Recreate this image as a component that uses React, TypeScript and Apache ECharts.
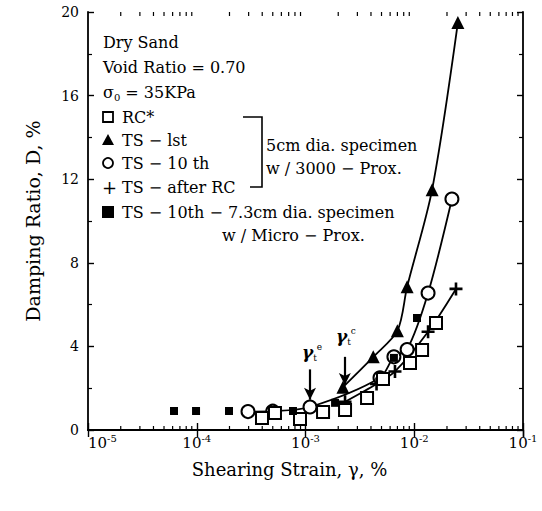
import React, { useEffect, useRef } from 'react';
import * as echarts from 'echarts';

// ---- data (shearing strain γ in %, damping ratio D in %) ----
const xTickValues = [1e-5, 1e-4, 1e-3, 1e-2, 1e-1];
const yTickValues = [0, 4, 8, 12, 16, 20];

const rcSquares: number[][] = [
  [3.98e-4, 0.57], [5.24e-4, 0.81], [8.9e-4, 0.53], [1.45e-3, 0.86], [2.31e-3, 0.96],
  [3.68e-3, 1.53], [5.16e-3, 2.44], [9.14e-3, 3.2], [1.18e-2, 3.83], [1.585e-2, 5.12],
];
const ts1st: number[][] = [
  [2.21e-3, 2.05], [4.2e-3, 3.5], [7.0e-3, 4.75], [8.6e-3, 6.85], [1.46e-2, 11.5], [2.52e-2, 19.5],
];
const ts10th: number[][] = [
  [2.96e-4, 0.88], [5.0e-4, 0.9], [1.1e-3, 1.1], [4.84e-3, 2.5], [6.5e-3, 3.5],
  [8.6e-3, 3.85], [1.34e-2, 6.55], [2.22e-2, 11.05],
];
const tsAfterRC: number[][] = [
  [2.31e-3, 1.35], [4.5e-3, 2.2], [6.65e-3, 2.8], [1.34e-2, 4.7], [2.42e-2, 6.75],
];
const ts10th73: number[][] = [
  [6.18e-5, 0.91], [9.85e-5, 0.91], [1.98e-4, 0.91], [7.67e-4, 0.91], [1.87e-3, 1.3],
  [6.5e-3, 3.45], [1.06e-2, 5.36],
];
const thresholdArrows = [
  { x: 1.1e-3, from: 2.9, to: 1.45 },
  { x: 2.3e-3, from: 3.5, to: 2.15 },
];

const FONT = '"DejaVu Serif", "Liberation Serif", serif';
const minorValues: number[][] = [];
for (let e = -5; e <= -2; e++) {
  for (let k = 2; k <= 9; k++) minorValues.push([k * Math.pow(10, e), 0]);
}
const PLUS = 'path://M4,0 L6,0 L6,4 L10,4 L10,6 L6,6 L6,10 L4,10 L4,6 L0,6 L0,4 L4,4 Z';

export default function App() {
  const ref = useRef<HTMLDivElement>(null);
  useEffect(() => {
    if (!ref.current) return;
    const chart = echarts.init(ref.current, null, { renderer: 'svg' });
    const supFmt = (v: number) => {
      const e = Math.round(Math.log10(v));
      return '{a|10}{b|' + e + '}';
    };
    const axisCommon = {
      type: 'log' as const,
      logBase: 10,
      min: xTickValues[0],
      max: xTickValues[xTickValues.length - 1],
      axisLine: { lineStyle: { color: '#000', width: 1.8 } },
      splitLine: { show: false },
    };
    const lineSeries = (name: string, data: number[][], symbol: string, size: number, fill: string) => ({
      name,
      type: 'line',
      data,
      smooth: 0.3,
      symbol,
      symbolSize: size,
      showAllSymbol: true,
      lineStyle: { color: '#000', width: 1.8 },
      itemStyle: { color: fill, borderColor: '#000', borderWidth: fill === '#000' ? 0 : 2, opacity: 1 },
      z: 3,
    });
    const legendY = [117, 140, 163, 187, 212];
    const txt = (text: string, x: number, y: number, size = 16, extra: any = {}) => ({
      type: 'text',
      x,
      y,
      style: { text, fill: '#000', font: `${size}px ${FONT}`, textVerticalAlign: 'middle', ...extra },
      z: 10,
    });
    const gammaLabel = (x: number, y: number, sup: string) => ({
      type: 'text', x, y, z: 10,
      style: {
        text: '{g|γ}{t|t}{e|' + sup + '}', textVerticalAlign: 'middle',
        rich: {
          g: { fontFamily: FONT, fontSize: 17, fontStyle: 'italic', fontWeight: 'bold', fill: '#000', lineHeight: 20 },
          t: { fontFamily: FONT, fontSize: 9, fill: '#000', lineHeight: 12, verticalAlign: 'bottom' },
          e: { fontFamily: FONT, fontSize: 9, fill: '#000', lineHeight: 12, verticalAlign: 'top' },
        },
      },
    });
    chart.setOption({
      animation: false,
      backgroundColor: '#fff',
      grid: { left: 88, right: 19, top: 12, bottom: 81 },
      xAxis: [
        {
          ...axisCommon,
          position: 'bottom',
          name: 'Shearing Strain, γ, %',
          nameLocation: 'middle',
          nameGap: 30,
          nameTextStyle: { fontFamily: FONT, fontSize: 18, color: '#000', padding: [0, 32, 0, 0] },
          axisTick: { show: true, inside: true, length: 7, lineStyle: { color: '#000', width: 1.4 } },
          axisLabel: {
            formatter: supFmt,
            margin: 3,
            alignMinLabel: 'left',
            alignMaxLabel: 'right',
            rich: {
              a: { fontFamily: FONT, fontSize: 15, color: '#000', lineHeight: 20 },
              b: { fontFamily: FONT, fontSize: 10, color: '#000', lineHeight: 12, verticalAlign: 'top' },
            },
          },
        },
        {
          ...axisCommon,
          position: 'top',
          axisTick: { show: true, inside: true, length: 7, lineStyle: { color: '#000', width: 1.4 } },
          axisLabel: { show: false },
        },
      ],
      yAxis: [
        {
          type: 'value',
          min: yTickValues[0],
          max: yTickValues[yTickValues.length - 1],
          interval: 4,
          position: 'left',
          name: 'Damping Ratio, D, %',
          nameLocation: 'middle',
          nameGap: 46,
          nameTextStyle: { fontFamily: FONT, fontSize: 19, color: '#000' },
          axisLine: { show: true, lineStyle: { color: '#000', width: 1.8 } },
          axisTick: { show: true, inside: true, length: 6, lineStyle: { color: '#000', width: 1.4 } },
          minorTick: { show: true, splitNumber: 2, length: 4, lineStyle: { color: '#000', width: 1.2 } },
          axisLabel: { fontFamily: FONT, fontSize: 14, color: '#000', margin: 9 },
          splitLine: { show: false },
        },
        {
          type: 'value',
          min: yTickValues[0],
          max: yTickValues[yTickValues.length - 1],
          interval: 4,
          position: 'right',
          axisLine: { show: true, lineStyle: { color: '#000', width: 1.8 } },
          axisTick: { show: true, inside: true, length: 6, lineStyle: { color: '#000', width: 1.4 } },
          minorTick: { show: true, splitNumber: 2, length: 4, lineStyle: { color: '#000', width: 1.2 } },
          axisLabel: { show: false },
          splitLine: { show: false },
        },
      ],
      series: [
        {
          type: 'custom',
          name: 'minorTicks',
          data: minorValues,
          silent: true,
          clip: false,
          renderItem: (params: any, api: any) => {
            const v = api.value(0);
            const b = api.coord([v, yTickValues[0]]);
            const t = api.coord([v, yTickValues[yTickValues.length - 1]]);
            return {
              type: 'group',
              children: [
                { type: 'line', shape: { x1: b[0], y1: b[1], x2: b[0], y2: b[1] - 4 }, style: { stroke: '#000', lineWidth: 1.2 } },
                { type: 'line', shape: { x1: t[0], y1: t[1], x2: t[0], y2: t[1] + 4 }, style: { stroke: '#000', lineWidth: 1.2 } },
              ],
            };
          },
          z: 1,
        },
        lineSeries('TS-10 th', ts10th, 'circle', 13, '#fff'),
        lineSeries('TS-lst', ts1st, 'triangle', 13, '#000'),
        lineSeries('TS-after RC', tsAfterRC, PLUS, 13, '#000'),
        {
          name: 'RC*',
          type: 'scatter',
          data: rcSquares,
          symbol: 'rect',
          symbolSize: 12,
          itemStyle: { color: '#fff', borderColor: '#000', borderWidth: 2, opacity: 1 },
          z: 4,
        },
        {
          name: 'TS-10th-7.3cm',
          type: 'scatter',
          data: ts10th73,
          symbol: 'rect',
          symbolSize: 8,
          itemStyle: { color: '#000', opacity: 1 },
          z: 5,
          markLine: {
            silent: true,
            symbol: ['none', 'arrow'],
            symbolSize: [9, 12],
            label: { show: false },
            lineStyle: { color: '#000', width: 2.2, type: 'solid', opacity: 1 },
            data: thresholdArrows.map((a) => [{ coord: [a.x, a.from] }, { coord: [a.x, a.to] }]),
          },
        },
      ],
      graphic: [
        txt('Dry Sand', 103, 42),
        txt('Void Ratio = 0.70', 103, 67),
        {
          type: 'text', x: 103, y: 92, z: 10,
          style: {
            text: '{s|σ}{sub|0}{s| = 35KPa}', textVerticalAlign: 'middle',
            rich: {
              s: { fontFamily: FONT, fontSize: 16, fill: '#000', lineHeight: 20 },
              sub: { fontFamily: FONT, fontSize: 10, fill: '#000', lineHeight: 12, verticalAlign: 'bottom' },
            },
          },
        },
        { type: 'rect', shape: { x: 103, y: legendY[0] - 5, width: 10, height: 10 }, style: { fill: '#fff', stroke: '#000', lineWidth: 1.8 }, z: 10 },
        txt('RC*', 122, legendY[0]),
        { type: 'polygon', shape: { points: [[108, legendY[1] - 6], [114, legendY[1] + 5], [102, legendY[1] + 5]] }, style: { fill: '#000' }, z: 10 },
        txt('TS − lst', 122, legendY[1]),
        { type: 'circle', shape: { cx: 108, cy: legendY[2], r: 5 }, style: { fill: '#fff', stroke: '#000', lineWidth: 1.8 }, z: 10 },
        txt('TS − 10 th', 122, legendY[2]),
        txt('+', 102, legendY[3], 18),
        txt('TS − after RC', 122, legendY[3]),
        { type: 'polyline', shape: { points: [[243, legendY[0]], [262, legendY[0]], [262, legendY[3]], [250, legendY[3]]] }, style: { stroke: '#000', lineWidth: 1.6, fill: 'none' }, z: 10 },
        txt('5cm dia. specimen', 266, 145),
        txt('w / 3000 − Prox.', 266, 168),
        { type: 'rect', shape: { x: 102, y: legendY[4] - 6, width: 12, height: 12 }, style: { fill: '#000' }, z: 10 },
        txt('TS − 10th − 7.3cm dia. specimen', 122, legendY[4]),
        txt('w / Micro − Prox.', 222, 235),
        gammaLabel(302, 352, 'e'),
        gammaLabel(336, 336, 'c'),
      ],
    });
    return () => chart.dispose();
  }, []);
  return <div ref={ref} style={{ position: 'fixed', left: 0, top: 0, width: 542, height: 511, background: '#fff' }} />;
}
